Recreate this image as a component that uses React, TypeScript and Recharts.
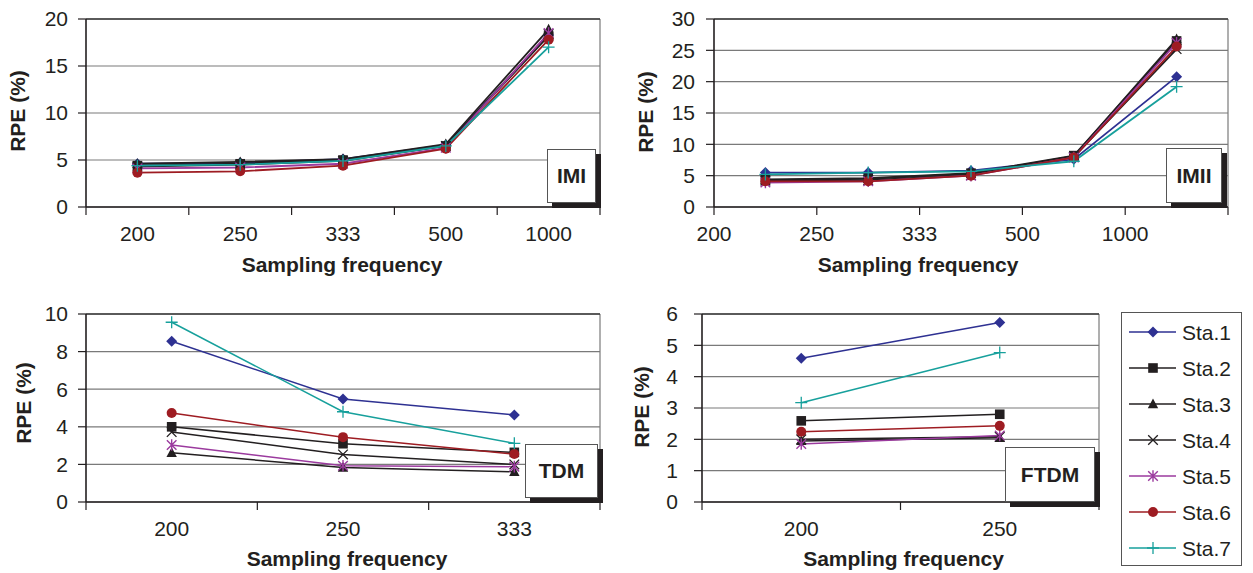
import React from 'react';
import { LineChart, Line, XAxis, YAxis, CartesianGrid, ReferenceLine, Legend } from 'recharts';

const FONT = '"Liberation Sans", Arial, Helvetica, sans-serif';
const INK = '#231f20';
const GRID = '#7a7a7a';
const FS = 21;

const stations = ['Sta.1', 'Sta.2', 'Sta.3', 'Sta.4', 'Sta.5', 'Sta.6', 'Sta.7'];
const stationColors = ['#2e3192', '#231f20', '#231f20', '#231f20', '#9b3a9e', '#9e1c22', '#17a09c'];
const stationShapes = ['diamond', 'square', 'triangle', 'cross', 'star', 'circle', 'plus'];

// sampling frequencies used by each method
const imiFreq = ['200', '250', '333', '500', '1000'];
const imiiFreq = ['200', '250', '333', '500', '1000'];
const tdmFreq = ['200', '250', '333'];
const ftdmFreq = ['200', '250'];

// RPE (%), one row per station (Sta.1 .. Sta.7)
const imiRpe = [
  [4.6, 4.7, 5.1, 6.6, 18.3],
  [4.4, 4.6, 5.0, 6.5, 18.2],
  [4.6, 4.8, 5.1, 6.7, 18.9],
  [4.3, 4.5, 4.9, 6.5, 18.4],
  [4.1, 4.2, 4.6, 6.3, 18.5],
  [3.65, 3.8, 4.4, 6.2, 17.8],
  [4.4, 4.5, 4.9, 6.5, 17.0],
];
const imiiRpe = [
  [5.5, 5.5, 5.8, 7.6, 20.8],
  [4.4, 4.6, 5.4, 8.2, 26.5],
  [4.3, 4.5, 5.3, 8.1, 26.8],
  [4.2, 4.3, 5.1, 8.0, 25.2],
  [3.9, 4.1, 5.0, 7.9, 26.2],
  [4.1, 4.1, 5.0, 7.9, 25.6],
  [5.2, 5.5, 5.7, 7.3, 19.2],
];
const tdmRpe = [
  [8.55, 5.48, 4.63],
  [4.0, 3.1, 2.64],
  [2.62, 1.83, 1.61],
  [3.72, 2.53, 2.0],
  [3.03, 1.93, 1.88],
  [4.73, 3.45, 2.55],
  [9.56, 4.8, 3.12],
];
const ftdmRpe = [
  [4.59, 5.73],
  [2.59, 2.8],
  [1.95, 2.05],
  [2.0, 2.08],
  [1.85, 2.12],
  [2.24, 2.43],
  [3.17, 4.77],
];

const imiTicks = [0, 5, 10, 15, 20];
const imiiTicks = [0, 5, 10, 15, 20, 25, 30];
const tdmTicks = [0, 2, 4, 6, 8, 10];
const ftdmTicks = [0, 1, 2, 3, 4, 5, 6];

function buildRows(freq: string[], rpe: number[][]) {
  return freq.map((f, i) => {
    const row: any = { freq: f, pos: i + 0.5 };
    rpe.forEach((vals, k) => {
      row[`s${k + 1}`] = vals[i];
    });
    return row;
  });
}

function Marker({ shape, cx, cy, color }: any) {
  if (cx == null || cy == null) return null;
  switch (shape) {
    case 'diamond': {
      const r = 5.5;
      return <path d={`M${cx} ${cy - r}L${cx + r} ${cy}L${cx} ${cy + r}L${cx - r} ${cy}Z`} fill={color} />;
    }
    case 'square':
      return <rect x={cx - 4.8} y={cy - 4.8} width={9.6} height={9.6} fill={color} />;
    case 'triangle':
      return <path d={`M${cx} ${cy - 5.5}L${cx + 5.2} ${cy + 4.2}L${cx - 5.2} ${cy + 4.2}Z`} fill={color} />;
    case 'cross': {
      const r = 4.8;
      return (
        <path
          d={`M${cx - r} ${cy - r}L${cx + r} ${cy + r}M${cx - r} ${cy + r}L${cx + r} ${cy - r}`}
          stroke={color}
          strokeWidth={1.3}
          fill="none"
        />
      );
    }
    case 'star': {
      const r = 4.8;
      return (
        <path
          d={`M${cx - r} ${cy - r}L${cx + r} ${cy + r}M${cx - r} ${cy + r}L${cx + r} ${cy - r}M${cx} ${cy - r - 1}L${cx} ${cy + r + 1}`}
          stroke={color}
          strokeWidth={1.4}
          fill="none"
        />
      );
    }
    case 'circle':
      return <circle cx={cx} cy={cy} r={5} fill={color} />;
    case 'plus': {
      const r = 6;
      return (
        <path d={`M${cx - r} ${cy}L${cx + r} ${cy}M${cx} ${cy - r}L${cx} ${cy + r}`} stroke={color} strokeWidth={1.3} fill="none" />
      );
    }
    default:
      return null;
  }
}

function FreqTick({ x, y, payload, labels, shift }: any) {
  const label = labels[payload.value];
  return (
    <g>
      <line x1={x} y1={y} x2={x} y2={y + 8} stroke={INK} strokeWidth={1.2} />
      {label ? (
        <text x={x + shift} y={y + 34} textAnchor="middle" fontSize={FS} fill={INK} fontFamily={FONT}>
          {label}
        </text>
      ) : null}
    </g>
  );
}

function StationLegend({ payload }: any) {
  const items = payload || [];
  return (
    <svg width={121} height={254} style={{ display: 'block' }}>
      <rect x={0.5} y={0.5} width={120} height={253} fill="#fff" stroke="#555" />
      {items.map((entry: any, i: number) => {
        const k = stations.indexOf(entry.value);
        const cy = 20 + i * 36;
        return (
          <g key={entry.value}>
            <line x1={8} x2={55} y1={cy} y2={cy} stroke={entry.color} strokeWidth={1.5} />
            <Marker shape={stationShapes[k]} cx={32} cy={cy} color={stationColors[k]} />
            <text x={61} y={cy + 7.5} fontSize={FS} fill={INK} fontFamily={FONT}>
              {entry.value}
            </text>
          </g>
        );
      })}
    </svg>
  );
}

type PanelProps = {
  freq: string[];
  rpe: number[][];
  yTicks: number[];
  width: number;
  height: number;
  top: number;
  right: number;
  yWidth: number;
  xHeight: number;
  yTickSize: number;
  yTickMargin: number;
  lineWidth: number;
  labelsOnTicks?: boolean;
  xTitleOffset: number;
  xTitleDx: number;
  yTitleX: number;
  yTitleDy: number;
  withLegend?: boolean;
};

function Panel(p: PanelProps) {
  const rows = buildRows(p.freq, p.rpe);
  const n = p.freq.length;
  const yMax = p.yTicks[p.yTicks.length - 1];
  const plotWidth = p.width - p.right - p.yWidth;
  const band = plotWidth / n;
  const xTicks = Array.from({ length: n + 1 }, (_, i) => i);
  return (
    <LineChart width={p.width} height={p.height} data={rows} margin={{ top: p.top, right: p.right, bottom: 0, left: 0 }}>
      <CartesianGrid vertical={false} stroke={GRID} strokeWidth={1.2} />
      <ReferenceLine x={n} stroke={GRID} strokeWidth={1.2} />
      <ReferenceLine y={yMax} stroke="#3a3a3a" strokeWidth={1.4} />
      <XAxis
        type="number"
        dataKey="pos"
        domain={[0, n]}
        ticks={xTicks}
        interval={0}
        height={p.xHeight}
        axisLine={{ stroke: INK, strokeWidth: 1.6 }}
        tickLine={false}
        tickSize={0}
        tickMargin={0}
        tick={(tp: any) => (
          <FreqTick {...tp} labels={p.freq} shift={p.labelsOnTicks ? 0 : band / 2} />
        )}
        label={{
          value: 'Sampling frequency',
          position: 'insideBottom',
          offset: p.xTitleOffset,
          dx: p.xTitleDx,
          style: { fontWeight: 'bold', fontSize: FS, fill: INK, fontFamily: FONT },
        }}
      />
      <YAxis
        type="number"
        domain={[0, yMax]}
        ticks={p.yTicks}
        interval={0}
        width={p.yWidth}
        tickSize={p.yTickSize}
        tickMargin={p.yTickMargin}
        axisLine={{ stroke: INK, strokeWidth: 1.6 }}
        tickLine={{ stroke: INK, strokeWidth: 1.2 }}
        tick={{ fontSize: FS, fill: INK, fontFamily: FONT }}
        label={{
          value: 'RPE (%)',
          angle: -90,
          position: 'insideLeft',
          offset: p.yTitleX,
          dy: p.yTitleDy,
          style: { textAnchor: 'middle', fontWeight: 'bold', fontSize: FS, fill: INK, fontFamily: FONT },
        }}
      />
      {stations.map((s, k) => (
        <Line
          key={s}
          type="linear"
          dataKey={`s${k + 1}`}
          name={s}
          stroke={stationColors[k]}
          strokeWidth={p.lineWidth}
          dot={(dp: any) => (
            <g key={`dot-${k}-${dp.index}`}>
              <Marker shape={stationShapes[k]} cx={dp.cx} cy={dp.cy} color={stationColors[k]} />
            </g>
          )}
          activeDot={false}
          isAnimationActive={false}
        />
      ))}
      {p.withLegend ? (
        <Legend
          layout="vertical"
          align="center"
          verticalAlign="middle"
          wrapperStyle={{ position: 'absolute', left: 501, top: 22, width: 121, height: 254 }}
          content={(lp: any) => <StationLegend payload={lp.payload} />}
        />
      ) : null}
    </LineChart>
  );
}

function Tag({ text, left, top, width, height }: any) {
  return (
    <div
      style={{
        position: 'absolute',
        left,
        top,
        width,
        height,
        boxSizing: 'border-box',
        border: '1px solid #555',
        background: '#fff',
        boxShadow: `5px 5px 0 ${INK}`,
        display: 'flex',
        alignItems: 'center',
        justifyContent: 'center',
        fontFamily: FONT,
        fontWeight: 'bold',
        fontSize: FS,
        color: INK,
      }}
    >
      {text}
    </div>
  );
}

export default function App() {
  return (
    <div style={{ position: 'absolute', left: 0, top: 0, width: 1253, height: 573, background: '#fff', overflow: 'hidden' }}>
      <div style={{ position: 'absolute', left: 0, top: 0 }}>
        <Panel
          freq={imiFreq}
          rpe={imiRpe}
          yTicks={imiTicks}
          width={620}
          height={290}
          top={19}
          right={20}
          yWidth={86}
          xHeight={83}
          yTickSize={8}
          yTickMargin={10}
          lineWidth={1.8}
          xTitleOffset={18}
          xTitleDx={-1}
          yTitleX={18}
          yTitleDy={-2}
        />
      </div>
      <div style={{ position: 'absolute', left: 620, top: 0 }}>
        <Panel
          freq={imiiFreq}
          rpe={imiiRpe}
          yTicks={imiiTicks}
          width={633}
          height={290}
          top={19}
          right={25}
          yWidth={94}
          xHeight={83}
          yTickSize={8}
          yTickMargin={11}
          lineWidth={1.8}
          labelsOnTicks
          xTitleOffset={18}
          xTitleDx={-53}
          yTitleX={26}
          yTitleDy={-1}
        />
      </div>
      <div style={{ position: 'absolute', left: 0, top: 290 }}>
        <Panel
          freq={tdmFreq}
          rpe={tdmRpe}
          yTicks={tdmTicks}
          width={620}
          height={283}
          top={24}
          right={20}
          yWidth={86}
          xHeight={71}
          yTickSize={8}
          yTickMargin={10}
          lineWidth={1.5}
          xTitleOffset={7}
          xTitleDx={4}
          yTitleX={24}
          yTitleDy={-5}
        />
      </div>
      <div style={{ position: 'absolute', left: 620, top: 290 }}>
        <Panel
          freq={ftdmFreq}
          rpe={ftdmRpe}
          yTicks={ftdmTicks}
          width={633}
          height={283}
          top={24}
          right={154}
          yWidth={82}
          xHeight={71}
          yTickSize={8}
          yTickMargin={16}
          lineWidth={1.5}
          xTitleOffset={7}
          xTitleDx={3}
          yTitleX={22}
          yTitleDy={-1}
          withLegend
        />
      </div>
      <Tag text="IMI" left={547} top={149} width={49} height={54} />
      <Tag text="IMII" left={1166} top={148} width={56} height={55} />
      <Tag text="TDM" left={525} top={444} width={73} height={54} />
      <Tag text="FTDM" left={1005} top={447} width={90} height={55} />
    </div>
  );
}
